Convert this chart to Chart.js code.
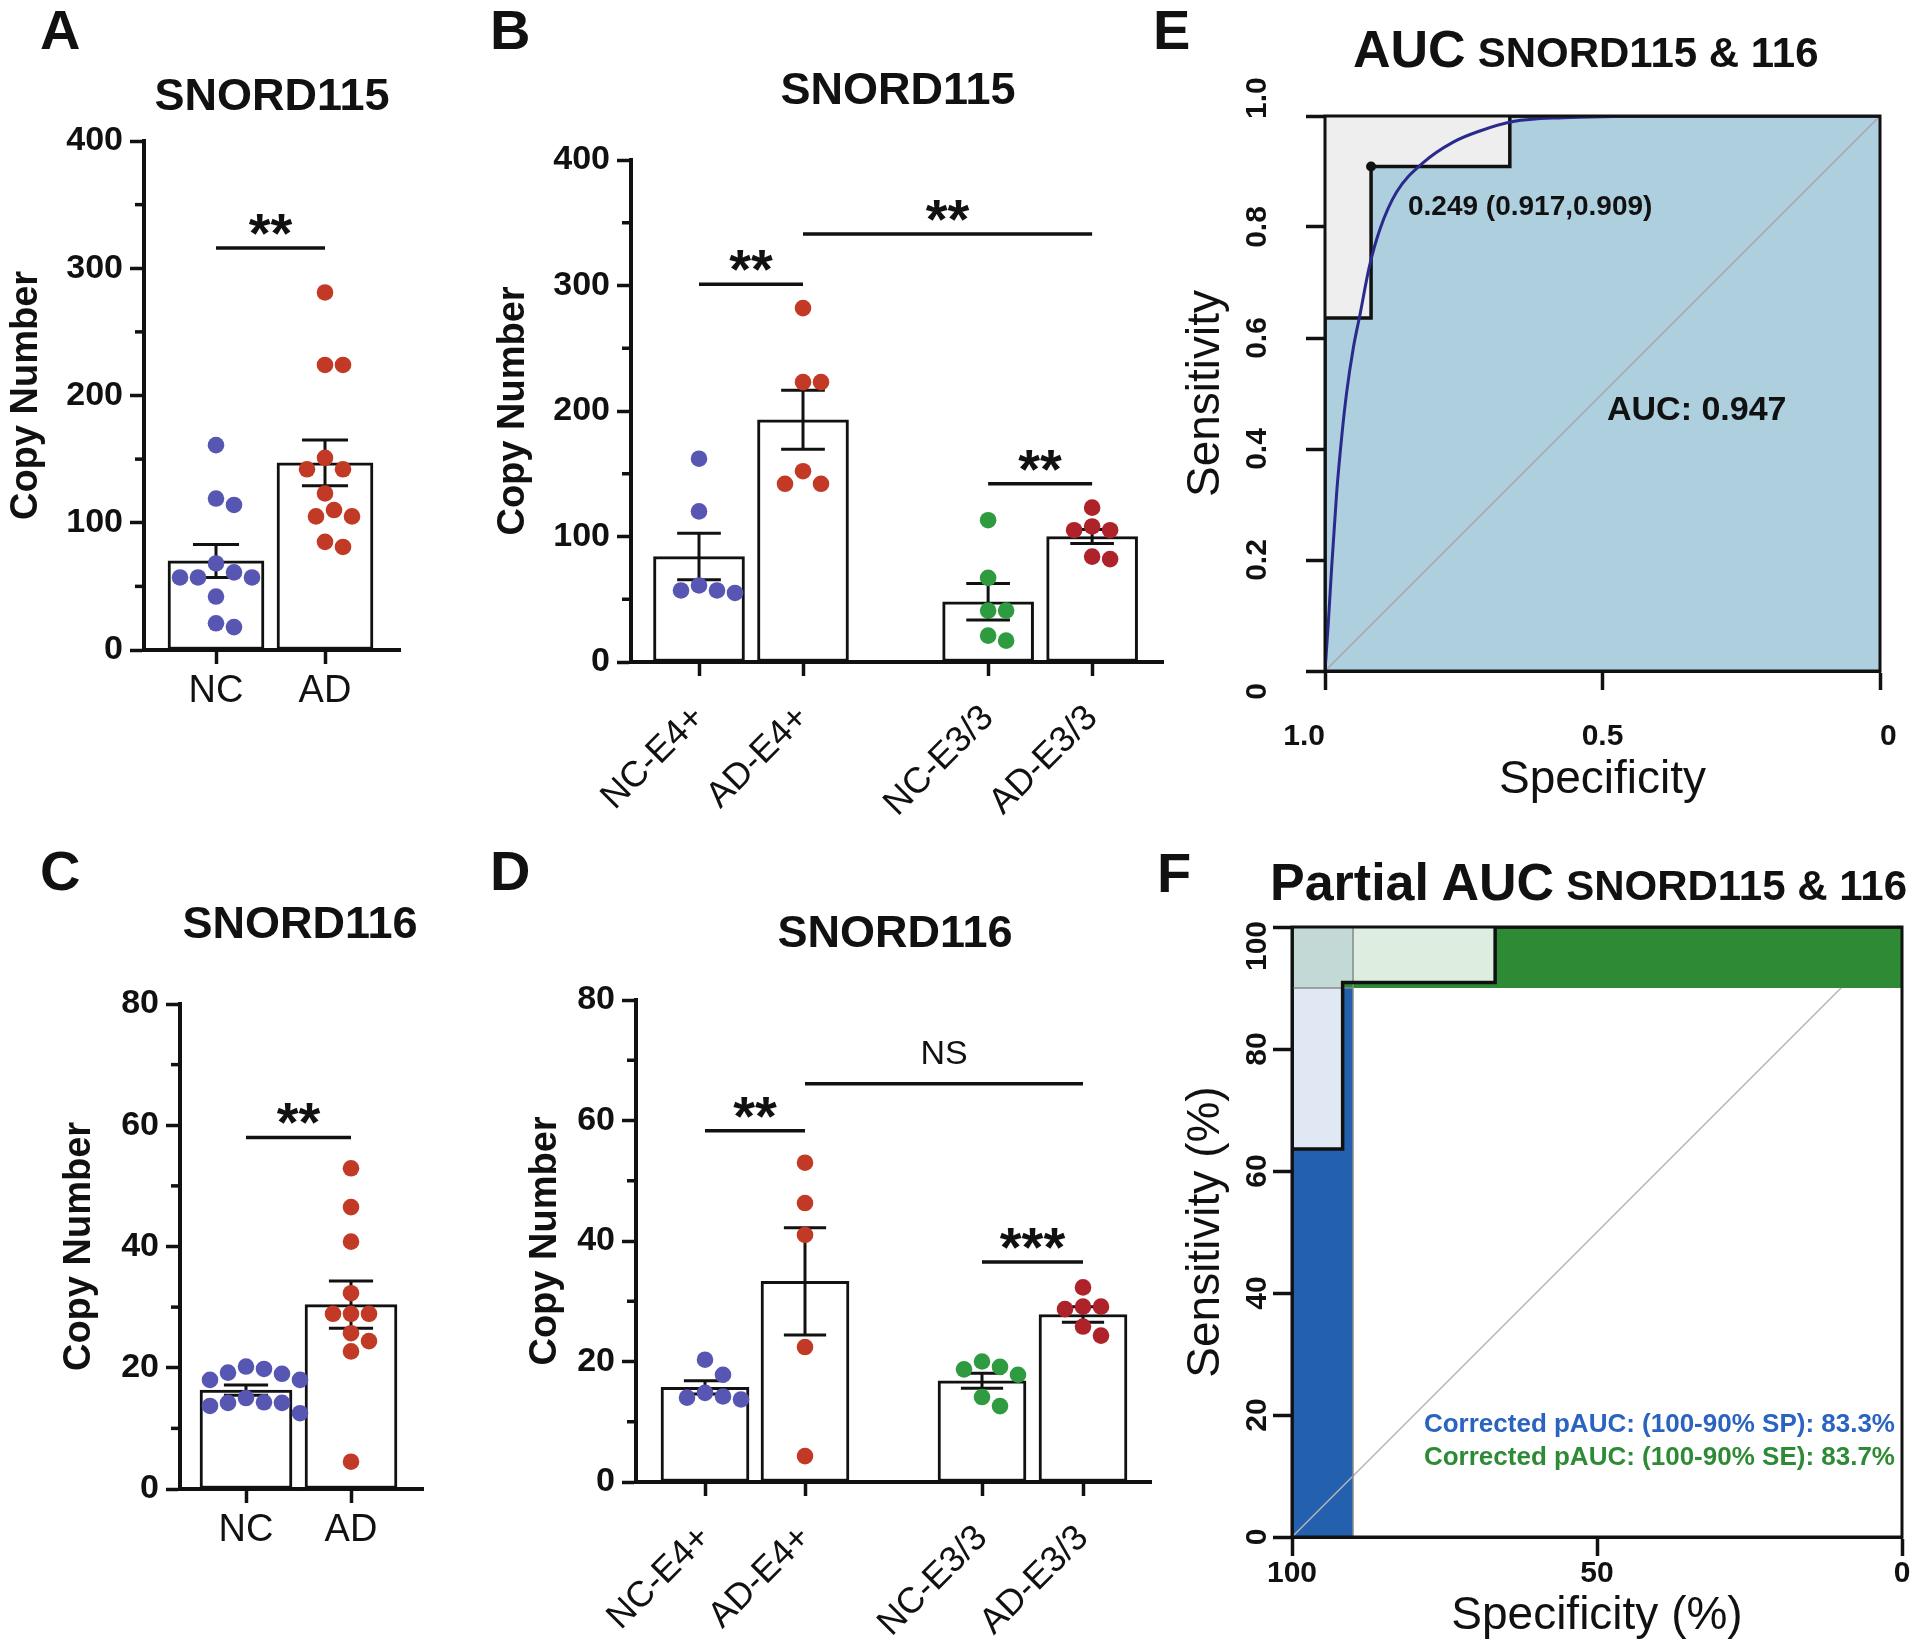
<!DOCTYPE html>
<html lang="en">
<head>
<meta charset="utf-8">
<title>SNORD115 / SNORD116 copy number and ROC</title>
<script src="https://cdn.jsdelivr.net/npm/chart.js@4.4.1/dist/chart.umd.min.js"></script>
<style>
  html, body { margin: 0; background: #fff; }
  #page { position: relative; width: 1920px; height: 1648px; overflow: hidden; font-family: "Liberation Sans", Arial, Helvetica, sans-serif; color: #111; }
  #page canvas { position: absolute; left: 0; top: 0; }
  .txt { position: absolute; white-space: nowrap; line-height: 1; font-weight: bold; }
  .letter { font-size: 56px; transform: translateY(-50%); }
  .title { font-size: 45px; transform: translate(-50%, -50%); }
  .mid { transform: translateY(-50%); }
  .sub { margin-left: 12px; font-size: 42px; }
</style>
</head>
<body>
<div id="page">
  <canvas id="chart-a" width="1920" height="1648"></canvas>
  <canvas id="chart-b" width="1920" height="1648"></canvas>
  <canvas id="chart-c" width="1920" height="1648"></canvas>
  <canvas id="chart-d" width="1920" height="1648"></canvas>
  <canvas id="chart-e" width="1920" height="1648"></canvas>
  <canvas id="chart-f" width="1920" height="1648"></canvas>

  <div class="txt letter" style="left:40px;top:30px">A</div>
  <div class="txt letter" style="left:490px;top:30px">B</div>
  <div class="txt letter" style="left:1153px;top:30px">E</div>
  <div class="txt letter" style="left:40px;top:871px">C</div>
  <div class="txt letter" style="left:490px;top:871px">D</div>
  <div class="txt letter" style="left:1157px;top:873px">F</div>

  <div class="txt title" style="left:272px;top:94px">SNORD115</div>
  <div class="txt title" style="left:898px;top:88px">SNORD115</div>
  <div class="txt title" style="left:300px;top:922px">SNORD116</div>
  <div class="txt title" style="left:895px;top:931px">SNORD116</div>

  <div class="txt mid" style="left:1353px;top:49px"><span style="font-size:52px">AUC</span><span class="sub">SNORD115 &amp; 116</span></div>
  <div class="txt mid" style="left:1270px;top:882px"><span style="font-size:52px">Partial AUC</span><span class="sub">SNORD115 &amp; 116</span></div>

  <div class="txt mid" style="left:1408px;top:206px;font-size:28px">0.249 (0.917,0.909)</div>
  <div class="txt mid" style="left:1607px;top:408px;font-size:34px">AUC: 0.947</div>
  <div class="txt mid" style="right:25px;top:1423px;font-size:26px;color:#2a63c0">Corrected pAUC: (100-90% SP): 83.3%</div>
  <div class="txt mid" style="right:25px;top:1456px;font-size:26px;color:#2e8b35">Corrected pAUC: (100-90% SE): 83.7%</div>
</div>
<script>
const FONT = '"Liberation Sans", Arial, Helvetica, sans-serif'
const INK = '#111111'
const BLUE = '#5757b3'
const RED = '#c23a26'
const GREEN = '#2f9b40'
const DARK_RED = '#ae2229'

// A: SNORD115, NC vs AD
const A_CATEGORIES = ['NC', 'AD']
const A_NC = [161, 119, 114, 68, 61, 57, 57, 57, 42, 21, 18]
const A_AD = [281, 224, 224, 151, 142, 142, 123, 110, 105, 105, 85, 81]
const A_MEAN = [70, 147]
const A_SEM = [13, 18]
const A_SIG = [{ from: 0, to: 1, at: 316, text: '**' }]

// B: SNORD115 split by APOE genotype
const B_CATEGORIES = ['NC-E4+', 'AD-E4+', 'NC-E3/3', 'AD-E3/3']
const B_NC_E4 = [162, 120, 61, 57, 57, 55]
const B_AD_E4 = [282, 223, 223, 152, 142, 142]
const B_NC_E33 = [113, 67, 41, 41, 21, 17]
const B_AD_E33 = [123, 108, 105, 105, 84, 82]
const B_MEAN = [84, 193, 48, 100]
const B_SEM = [18.5, 23.5, 14.5, 5.5]
const B_SIG = [
  { from: 0, to: 1, at: 301, text: '**' },
  { from: 1, to: 3, at: 341, text: '**' },
  { from: 2, to: 3, at: 142, text: '**' },
]

// C: SNORD116, NC vs AD
const C_CATEGORIES = ['NC', 'AD']
const C_NC = [20.2, 19.8, 19.2, 19.0, 18.0, 18.0, 15.0, 14.3, 14.2, 14.2, 13.7, 12.5]
const C_AD = [52.9, 46.5, 40.8, 32.3, 28.9, 28.9, 28.9, 25.7, 24.4, 22.7, 4.5]
const C_MEAN = [16.3, 30.4]
const C_SEM = [0.85, 3.9]
const C_SIG = [{ from: 0, to: 1, at: 58, text: '**' }]

// D: SNORD116 split by APOE genotype
const D_CATEGORIES = ['NC-E4+', 'AD-E4+', 'NC-E3/3', 'AD-E3/3']
const D_NC_E4 = [20.3, 17.8, 14.8, 14.2, 14.0, 13.7]
const D_AD_E4 = [53.0, 46.3, 41.0, 22.4, 4.3]
const D_NC_E33 = [20.0, 19.1, 18.7, 17.8, 14.1, 12.6]
const D_AD_E33 = [32.3, 29.1, 29.1, 28.7, 25.8, 24.3]
const D_MEAN = [15.7, 33.3, 16.8, 27.8]
const D_SEM = [1.1, 8.9, 1.25, 1.3]
const D_SIG = [
  { from: 0, to: 1, at: 58.3, text: '**' },
  { from: 1, to: 3, at: 66.1, text: 'NS' },
  { from: 2, to: 3, at: 36.5, text: '***' },
]

// E: ROC (specificity, sensitivity)
const ROC_STEP_SPEC = [1, 1, 0.917, 0.917, 0.667, 0.667, 0]
const ROC_STEP_SENS = [0, 0.636, 0.636, 0.909, 0.909, 1, 1]
const ROC_SMOOTH_SPEC = [1, 0.994, 0.988, 0.979, 0.97, 0.961, 0.949, 0.937, 0.92, 0.901, 0.871, 0.823, 0.769, 0.721, 0.661, 0.571, 0.48, 0.38, 0]
const ROC_SMOOTH_SENS = [0, 0.087, 0.187, 0.321, 0.421, 0.502, 0.582, 0.642, 0.729, 0.796, 0.863, 0.916, 0.953, 0.973, 0.99, 0.997, 0.999, 1, 1]
const ROC_BEST = { spec: 0.917, sens: 0.909 }
const E_X_TICKS = [1, 0.5, 0]

// F: partial AUC (percent)
const F_X_TICKS = [100, 50, 0]
const PAUC_SP_CUT = 90
const PAUC_SE_CUT = 90

// pixel frame of each plot on the 1920x1648 page
const LAYOUT_A = { left: 144, top: 141, bottom: 650, right: 400, positions: [1, 2], firstPx: 216, unitPx: 109, barPx: 96, yAxisWidth: 139.8, xAxisHeight: 80, labelSize: 38, rotation: 0, labelPad: 5 }
const LAYOUT_B = { left: 631, top: 160, bottom: 662, right: 1163, positions: [1, 2, 3.78, 4.78], firstPx: 699, unitPx: 104, barPx: 91, yAxisWidth: 139.8, xAxisHeight: 190, labelSize: 36, rotation: 45, labelPad: 21 }
const LAYOUT_C = { left: 180, top: 1004, bottom: 1489, right: 423, positions: [1, 2], firstPx: 246, unitPx: 105, barPx: 92, yAxisWidth: 122.8, xAxisHeight: 80, labelSize: 38, rotation: 0, labelPad: 5 }
const LAYOUT_D = { left: 636, top: 1000, bottom: 1482, right: 1151, positions: [1, 2, 3.77, 4.78], firstPx: 705, unitPx: 100, barPx: 88, yAxisWidth: 112.8, xAxisHeight: 160, labelSize: 36, rotation: 45, labelPad: 21 }
// yEnds: [textAlign, shift] for the first and last rotated y label
const LAYOUT_E = { left: 1325, top: 116, bottom: 671, right: 1880, yAxisWidth: 146.6, xAxisHeight: 136.6, xLabelPad: 29, xAlign: 'inner', yLabelGap: 67, yEnds: [['right', -12], ['left', -3]] }
const LAYOUT_F = { left: 1292, top: 927, bottom: 1537, right: 1902, yAxisWidth: 113.6, xAxisHeight: 106.6, xLabelPad: 0, xAlign: 'center', yLabelGap: 34, yEnds: [['center', 0], ['right', 6]] }

const PAGE_W = 1920
const PAGE_H = 1648

/**
 * Greedy beeswarm: returns horizontal offsets (in x-axis units) so dots do not overlap.
 */
function swarmOffsets(values, yPxPerUnit, xPxPerUnit, sep) {
  const placed = []
  return values.map((v) => {
    const py = v * yPxPerUnit
    for (let k = 0; k < 60; k++) {
      const dx = k === 0 ? 0 : Math.ceil(k / 2) * (sep / 2) * (k % 2 ? 1 : -1)
      if (placed.every((p) => Math.hypot(p.dx - dx, p.py - py) >= sep)) {
        placed.push({ dx, py })
        return dx / xPxPerUnit
      }
    }
    return 0
  })
}

function axisLine(tickLength) {
  return {
    display: true,
    offset: false,
    drawOnChartArea: false,
    drawTicks: true,
    tickLength,
    tickWidth: 3.5,
    tickColor: INK,
  }
}

function barAnnotations(panel, layout) {
  return {
    id: 'barAnnotations',
    afterDatasetDraw(chart, args) {
      if (args.meta.type !== 'bar') return
      const { ctx, scales: { x, y } } = chart
      ctx.save()
      ctx.strokeStyle = INK
      ctx.lineWidth = 3
      const cap = layout.barPx * 0.24
      panel.mean.forEach((m, i) => {
        const cx = x.getPixelForValue(layout.positions[i])
        const hi = y.getPixelForValue(m + panel.sem[i])
        const lo = y.getPixelForValue(m - panel.sem[i])
        ctx.beginPath()
        ctx.moveTo(cx, hi)
        ctx.lineTo(cx, lo)
        ctx.moveTo(cx - cap, hi)
        ctx.lineTo(cx + cap, hi)
        ctx.moveTo(cx - cap, lo)
        ctx.lineTo(cx + cap, lo)
        ctx.stroke()
      })
      ctx.restore()
    },
    afterDraw(chart) {
      const { ctx, chartArea, scales: { x, y } } = chart
      ctx.save()
      ctx.strokeStyle = INK
      ctx.fillStyle = INK
      // unlabeled minor ticks halfway between the labelled ones
      ctx.lineWidth = 3.5
      for (let v = panel.yStep / 2; v < panel.yMax; v += panel.yStep) {
        const py = y.getPixelForValue(v)
        ctx.beginPath()
        ctx.moveTo(chartArea.left - 9, py)
        ctx.lineTo(chartArea.left, py)
        ctx.stroke()
      }
      // significance brackets
      ctx.textAlign = 'center'
      ctx.textBaseline = 'alphabetic'
      for (const s of panel.sig) {
        const x1 = x.getPixelForValue(layout.positions[s.from])
        const x2 = x.getPixelForValue(layout.positions[s.to])
        const py = y.getPixelForValue(s.at)
        ctx.beginPath()
        ctx.moveTo(x1, py)
        ctx.lineTo(x2, py)
        ctx.stroke()
        const stars = /^\*+$/.test(s.text)
        ctx.font = stars ? `bold 56px ${FONT}` : `34px ${FONT}`
        ctx.fillText(s.text, (x1 + x2) / 2, stars ? py + 4 : py - 20)
      }
      ctx.restore()
    },
  }
}

function renderBarPanel(canvasId, panel, layout) {
  const L = layout
  const xMin = L.positions[0] - (L.firstPx - L.left) / L.unitPx
  const xMax = L.positions[0] + (L.right - L.firstPx) / L.unitPx
  const yPxPerUnit = (L.bottom - L.top) / panel.yMax

  const pointSets = panel.groups.map((values, i) => {
    const offsets = swarmOffsets(values, yPxPerUnit, L.unitPx, 18)
    return {
      type: 'scatter',
      data: values.map((v, j) => ({ x: L.positions[i] + offsets[j], y: v })),
      pointRadius: 8.3,
      pointBorderWidth: 0,
      pointBackgroundColor: panel.colors[i],
      order: 1,
    }
  })

  new Chart(document.getElementById(canvasId), {
    type: 'bar',
    data: {
      datasets: [
        {
          type: 'bar',
          data: L.positions.map((x, i) => ({ x, y: panel.mean[i] })),
          backgroundColor: '#ffffff',
          borderColor: INK,
          borderWidth: 3,
          borderSkipped: false,
          barThickness: L.barPx,
          order: 10,
        },
        ...pointSets,
      ],
    },
    options: {
      responsive: false,
      animation: false,
      events: [],
      layout: {
        padding: {
          left: L.left - L.yAxisWidth,
          top: L.top,
          right: PAGE_W - L.right,
          bottom: PAGE_H - L.bottom - L.xAxisHeight,
        },
      },
      plugins: { legend: { display: false }, tooltip: { enabled: false } },
      scales: {
        x: {
          type: 'linear',
          offset: false,
          min: xMin,
          max: xMax,
          afterBuildTicks: (s) => { s.ticks = L.positions.map((value) => ({ value })) },
          ticks: {
            callback: (_v, i) => panel.categories[i],
            autoSkip: false,
            minRotation: L.rotation,
            maxRotation: L.rotation,
            padding: L.labelPad,
            color: INK,
            font: { family: FONT, size: L.labelSize },
          },
          grid: axisLine(14),
          border: { display: true, color: INK, width: 4 },
          afterFit: (s) => { s.height = L.xAxisHeight; s.paddingLeft = 0; s.paddingRight = 0 },
        },
        y: {
          type: 'linear',
          min: 0,
          max: panel.yMax,
          ticks: { stepSize: panel.yStep, padding: 7, color: INK, font: { family: FONT, size: 34, weight: 'bold' } },
          grid: axisLine(14),
          border: { display: true, color: INK, width: 4 },
          title: { display: true, text: 'Copy Number', color: INK, padding: 0, font: { family: FONT, size: 38, weight: 'bold' } },
          afterFit: (s) => { s.width = L.yAxisWidth; s.paddingTop = 0; s.paddingBottom = 0 },
        },
      },
    },
    plugins: [barAnnotations(panel, layout)],
  })
}

function rocFrame(layout, format) {
  return {
    id: 'rocFrame',
    afterDraw(chart) {
      const { ctx, chartArea: a, scales: { y } } = chart
      ctx.save()
      ctx.strokeStyle = INK
      ctx.lineWidth = 3
      ctx.strokeRect(a.left, a.top, a.right - a.left, a.bottom - a.top)
      ctx.fillStyle = INK
      ctx.font = `bold 30px ${FONT}`
      ctx.textBaseline = 'middle'
      const last = y.ticks.length - 1
      y.ticks.forEach((t, i) => {
        let [align, shift] = ['center', 0]
        if (i === 0) [align, shift] = layout.yEnds[0]
        if (i === last) [align, shift] = layout.yEnds[1]
        ctx.save()
        ctx.translate(a.left - layout.yLabelGap, y.getPixelForValue(t.value))
        ctx.rotate(-Math.PI / 2)
        ctx.textAlign = align
        ctx.fillText(format(t.value), shift, 0)
        ctx.restore()
      })
      ctx.restore()
    },
  }
}

function rocOptions(layout, { max, xTicks, xFormat, xTitle, yTitle, yStep }) {
  const L = layout
  return {
    responsive: false,
    animation: false,
    events: [],
    layout: {
      padding: {
        left: L.left - L.yAxisWidth,
        top: L.top,
        right: PAGE_W - L.right,
        bottom: PAGE_H - L.bottom - L.xAxisHeight,
      },
    },
    plugins: { legend: { display: false }, tooltip: { enabled: false } },
    elements: { point: { radius: 0 }, line: { tension: 0 } },
    scales: {
      x: {
        type: 'linear',
        min: 0,
        max,
        reverse: true,
        afterBuildTicks: (s) => { s.ticks = xTicks.map((value) => ({ value })) },
        ticks: { callback: (v) => xFormat(v), align: L.xAlign, padding: L.xLabelPad, color: INK, font: { family: FONT, size: 30, weight: 'bold' } },
        grid: axisLine(19),
        border: { display: true, color: INK, width: 3 },
        title: { display: true, text: xTitle, color: INK, padding: 0, font: { family: FONT, size: 46 } },
        afterFit: (s) => { s.height = L.xAxisHeight; s.paddingLeft = 0; s.paddingRight = 0 },
      },
      y: {
        type: 'linear',
        min: 0,
        max,
        ticks: { stepSize: yStep, display: false },
        grid: axisLine(19),
        border: { display: true, color: INK, width: 3 },
        title: { display: true, text: yTitle, color: INK, padding: 0, font: { family: FONT, size: 46 } },
        afterFit: (s) => { s.width = L.yAxisWidth; s.paddingTop = 0; s.paddingBottom = 0 },
      },
    },
  }
}

renderBarPanel('chart-a', {
  categories: A_CATEGORIES, groups: [A_NC, A_AD], colors: [BLUE, RED],
  mean: A_MEAN, sem: A_SEM, sig: A_SIG, yMax: 400, yStep: 100,
}, LAYOUT_A)

renderBarPanel('chart-b', {
  categories: B_CATEGORIES, groups: [B_NC_E4, B_AD_E4, B_NC_E33, B_AD_E33], colors: [BLUE, RED, GREEN, DARK_RED],
  mean: B_MEAN, sem: B_SEM, sig: B_SIG, yMax: 400, yStep: 100,
}, LAYOUT_B)

renderBarPanel('chart-c', {
  categories: C_CATEGORIES, groups: [C_NC, C_AD], colors: [BLUE, RED],
  mean: C_MEAN, sem: C_SEM, sig: C_SIG, yMax: 80, yStep: 20,
}, LAYOUT_C)

renderBarPanel('chart-d', {
  categories: D_CATEGORIES, groups: [D_NC_E4, D_AD_E4, D_NC_E33, D_AD_E33], colors: [BLUE, RED, GREEN, DARK_RED],
  mean: D_MEAN, sem: D_SEM, sig: D_SIG, yMax: 80, yStep: 20,
}, LAYOUT_D)

// E: full ROC with AUC polygon
const stepE = ROC_STEP_SPEC.map((x, i) => ({ x, y: ROC_STEP_SENS[i] }))
const smoothE = ROC_SMOOTH_SPEC.map((x, i) => ({ x, y: ROC_SMOOTH_SENS[i] }))

new Chart(document.getElementById('chart-e'), {
  type: 'line',
  data: {
    datasets: [
      { data: [{ x: 1, y: 1 }, { x: 0, y: 1 }], fill: 'origin', backgroundColor: '#eeeeee', borderWidth: 0, order: 6 },
      { data: stepE, fill: 'origin', backgroundColor: '#adcfde', borderWidth: 0, order: 5 },
      { data: [{ x: 1, y: 0 }, { x: 0, y: 1 }], borderColor: '#a8a8a8', borderWidth: 1.5, order: 4 },
      { data: stepE, borderColor: INK, borderWidth: 3.5, order: 3 },
      { data: smoothE, borderColor: '#2a2a8c', borderWidth: 3, cubicInterpolationMode: 'monotone', order: 2 },
      { data: [{ x: ROC_BEST.spec, y: ROC_BEST.sens }], pointRadius: 5, pointBackgroundColor: INK, pointBorderWidth: 0, showLine: false, order: 1 },
    ],
  },
  options: rocOptions(LAYOUT_E, {
    max: 1,
    xTicks: E_X_TICKS,
    xFormat: (v) => (v === 0 ? '0' : v.toFixed(1)),
    xTitle: 'Specificity',
    yTitle: 'Sensitivity',
    yStep: 0.2,
  }),
  plugins: [rocFrame(LAYOUT_E, (v) => (v === 0 ? '0' : v.toFixed(1)))],
})

// F: partial AUC over the 100-90 % SP and 100-90 % SE ranges
const stepF = stepE.map((p) => ({ x: p.x * 100, y: p.y * 100 }))
const spArea = stepF.filter((p) => p.x >= PAUC_SP_CUT)
spArea.push({ x: PAUC_SP_CUT, y: spArea[spArea.length - 1].y })
const seArea = stepF.filter((p) => p.y >= PAUC_SE_CUT)

new Chart(document.getElementById('chart-f'), {
  type: 'line',
  data: {
    datasets: [
      { data: [{ x: 100, y: 100 }, { x: PAUC_SP_CUT, y: 100 }], fill: 'origin', backgroundColor: 'rgba(35,95,175,0.14)', borderWidth: 0, order: 9 },
      { data: spArea, fill: 'origin', backgroundColor: '#2360ae', borderWidth: 0, order: 8 },
      { data: [{ x: 100, y: 0 }, { x: 0, y: 100 }], borderColor: '#b4b4b4', borderWidth: 1.5, order: 7 },
      { data: [{ x: 100, y: 100 }, { x: 0, y: 100 }], fill: { value: PAUC_SE_CUT }, backgroundColor: 'rgba(45,140,55,0.16)', borderWidth: 0, order: 6 },
      { data: seArea, fill: { value: PAUC_SE_CUT }, backgroundColor: '#2e8a35', borderWidth: 0, order: 5 },
      { data: [{ x: PAUC_SP_CUT, y: 0 }, { x: PAUC_SP_CUT, y: 100 }], borderColor: '#8a8a8a', borderWidth: 1.5, order: 4 },
      { data: [{ x: 100, y: PAUC_SE_CUT }, { x: PAUC_SP_CUT, y: PAUC_SE_CUT }], borderColor: '#8a8a8a', borderWidth: 1.5, order: 4 },
      { data: stepF, borderColor: INK, borderWidth: 3.5, order: 2 },
    ],
  },
  options: rocOptions(LAYOUT_F, {
    max: 100,
    xTicks: F_X_TICKS,
    xFormat: (v) => String(v),
    xTitle: 'Specificity (%)',
    yTitle: 'Sensitivity (%)',
    yStep: 20,
  }),
  plugins: [rocFrame(LAYOUT_F, (v) => String(Math.round(v)))],
})
</script>
</body>
</html>
